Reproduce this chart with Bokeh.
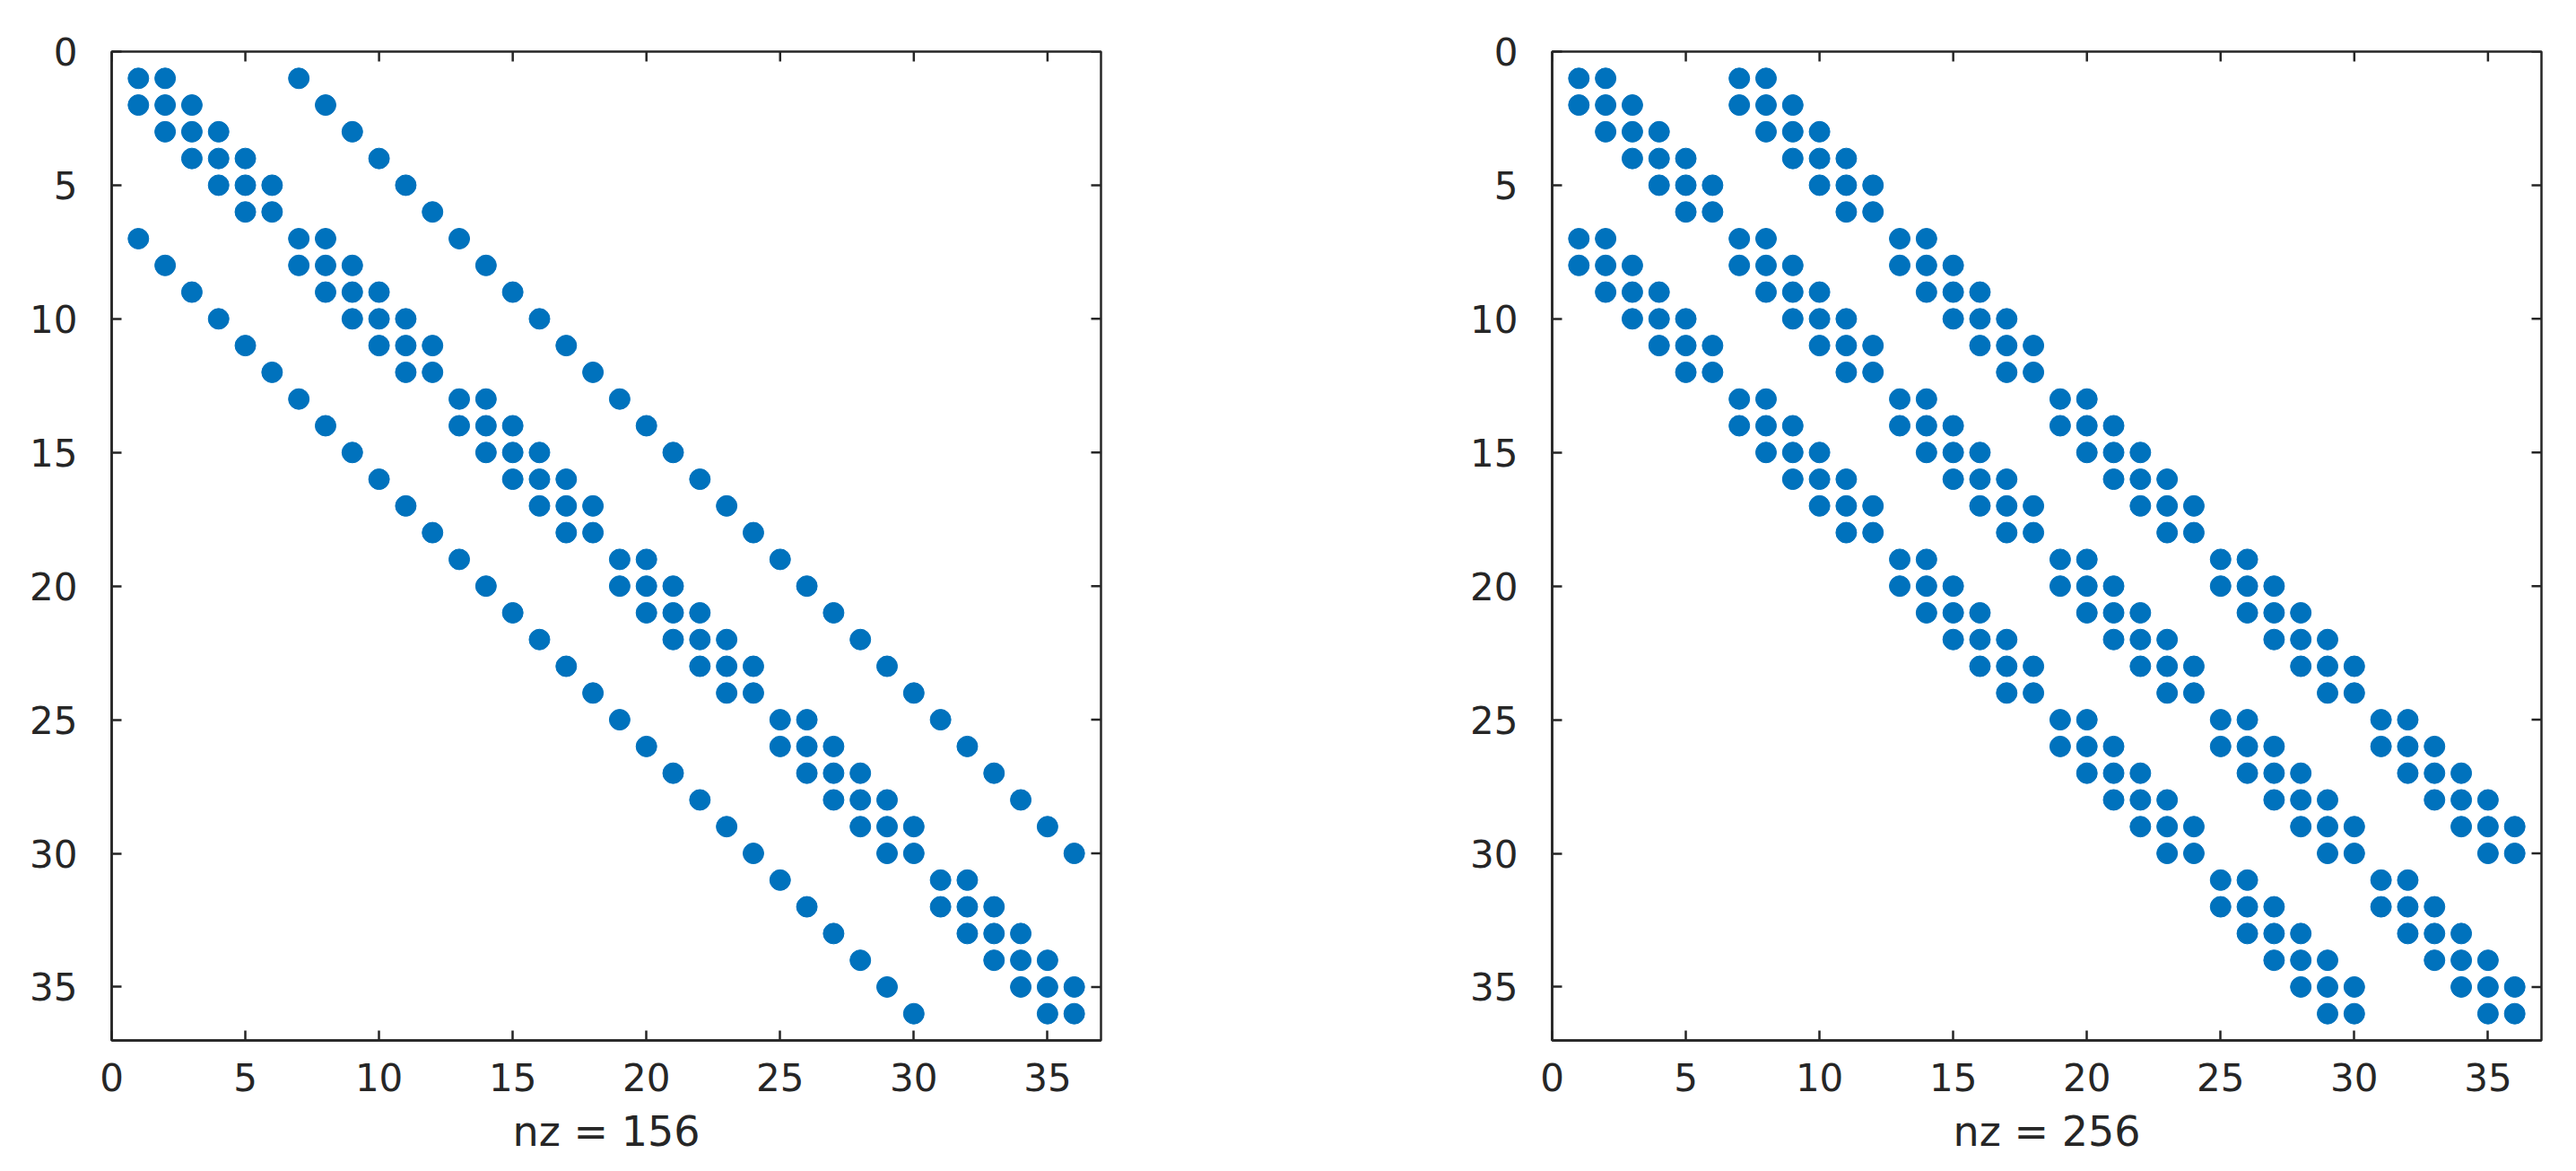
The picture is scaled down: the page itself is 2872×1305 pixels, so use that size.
import math
from bokeh.plotting import figure
from bokeh.models import Range1d, FixedTicker
from bokeh.layouts import row
from bokeh.embed import file_html
from bokeh.resources import INLINE

# Column indices of nonzeros, one list per matrix row (rows 1..36)
A_cols = [
    [1, 2, 7], [1, 2, 3, 8], [2, 3, 4, 9], [3, 4, 5, 10], [4, 5, 6, 11], [5, 6, 12],
    [1, 7, 8, 13], [2, 7, 8, 9, 14], [3, 8, 9, 10, 15], [4, 9, 10, 11, 16], [5, 10, 11, 12, 17], [6, 11, 12, 18],
    [7, 13, 14, 19], [8, 13, 14, 15, 20], [9, 14, 15, 16, 21], [10, 15, 16, 17, 22], [11, 16, 17, 18, 23], [12, 17, 18, 24],
    [13, 19, 20, 25], [14, 19, 20, 21, 26], [15, 20, 21, 22, 27], [16, 21, 22, 23, 28], [17, 22, 23, 24, 29], [18, 23, 24, 30],
    [19, 25, 26, 31], [20, 25, 26, 27, 32], [21, 26, 27, 28, 33], [22, 27, 28, 29, 34], [23, 28, 29, 30, 35], [24, 29, 30, 36],
    [25, 31, 32], [26, 31, 32, 33], [27, 32, 33, 34], [28, 33, 34, 35], [29, 34, 35, 36], [30, 35, 36],
]
B_cols = [
    [1, 2, 7, 8], [1, 2, 3, 7, 8, 9], [2, 3, 4, 8, 9, 10], [3, 4, 5, 9, 10, 11], [4, 5, 6, 10, 11, 12], [5, 6, 11, 12],
    [1, 2, 7, 8, 13, 14], [1, 2, 3, 7, 8, 9, 13, 14, 15], [2, 3, 4, 8, 9, 10, 14, 15, 16],
    [3, 4, 5, 9, 10, 11, 15, 16, 17], [4, 5, 6, 10, 11, 12, 16, 17, 18], [5, 6, 11, 12, 17, 18],
    [7, 8, 13, 14, 19, 20], [7, 8, 9, 13, 14, 15, 19, 20, 21], [8, 9, 10, 14, 15, 16, 20, 21, 22],
    [9, 10, 11, 15, 16, 17, 21, 22, 23], [10, 11, 12, 16, 17, 18, 22, 23, 24], [11, 12, 17, 18, 23, 24],
    [13, 14, 19, 20, 25, 26], [13, 14, 15, 19, 20, 21, 25, 26, 27], [14, 15, 16, 20, 21, 22, 26, 27, 28],
    [15, 16, 17, 21, 22, 23, 27, 28, 29], [16, 17, 18, 22, 23, 24, 28, 29, 30], [17, 18, 23, 24, 29, 30],
    [19, 20, 25, 26, 31, 32], [19, 20, 21, 25, 26, 27, 31, 32, 33], [20, 21, 22, 26, 27, 28, 32, 33, 34],
    [21, 22, 23, 27, 28, 29, 33, 34, 35], [22, 23, 24, 28, 29, 30, 34, 35, 36], [23, 24, 29, 30, 35, 36],
    [25, 26, 31, 32], [25, 26, 27, 31, 32, 33], [26, 27, 28, 32, 33, 34], [27, 28, 29, 33, 34, 35],
    [28, 29, 30, 34, 35, 36], [29, 30, 35, 36],
]
tick_values = [0, 5, 10, 15, 20, 25, 30, 35]
axis_limit = 37

FONT = "DejaVu Sans"
DARK = "#262626"
BLUE = "#0072BD"


def flatten(rows):
    xs, ys = [], []
    for r, cols in enumerate(rows, start=1):
        for c in cols:
            xs.append(c)
            ys.append(r)
    return xs, ys


def spy(rows, width, border_right):
    xs, ys = flatten(rows)
    p = figure(width=width, height=1290, output_backend="svg", toolbar_location=None,
               x_range=Range1d(0, axis_limit), y_range=Range1d(axis_limit, 0),
               min_border_left=124, min_border_right=border_right,
               min_border_top=57, min_border_bottom=130)
    p.grid.visible = False
    p.background_fill_color = "white"
    p.border_fill_color = "white"
    p.outline_line_color = DARK
    p.outline_line_width = 2.5
    p.scatter(xs, ys, marker="circle", size=23, fill_color=BLUE, line_color=BLUE)

    # inward ticks on top and right edges (half of each dash is clipped by the frame)
    p.scatter(x=tick_values, y=[0] * len(tick_values), marker="dash", size=22,
              angle=math.pi / 2, line_color=DARK, line_width=2.5)
    p.scatter(x=[axis_limit] * len(tick_values), y=tick_values, marker="dash", size=22,
              angle=0, line_color=DARK, line_width=2.5)

    for ax in (p.xaxis[0], p.yaxis[0]):
        ax.ticker = FixedTicker(ticks=tick_values)
        ax.minor_tick_line_color = None
        ax.major_tick_in = 11
        ax.major_tick_out = 0
        ax.major_tick_line_color = DARK
        ax.major_tick_line_width = 2.5
        ax.axis_line_color = DARK
        ax.axis_line_width = 2.5
        ax.major_label_text_font = FONT
        ax.major_label_text_font_size = "42px"
        ax.major_label_text_color = DARK
    p.xaxis[0].major_label_standoff = 25
    p.yaxis[0].major_label_standoff = 38
    p.xaxis[0].axis_label = f"nz = {len(xs)}"
    p.xaxis[0].axis_label_text_font = FONT
    p.xaxis[0].axis_label_text_font_size = "46px"
    p.xaxis[0].axis_label_text_font_style = "normal"
    p.xaxis[0].axis_label_text_color = DARK
    p.xaxis[0].axis_label_standoff = 15
    return p


p1 = spy(A_cols, 1606, 379)
p2 = spy(B_cols, 1250, 23)
layout = row(p1, p2)
open("out.html", "w").write(file_html(layout, INLINE))
